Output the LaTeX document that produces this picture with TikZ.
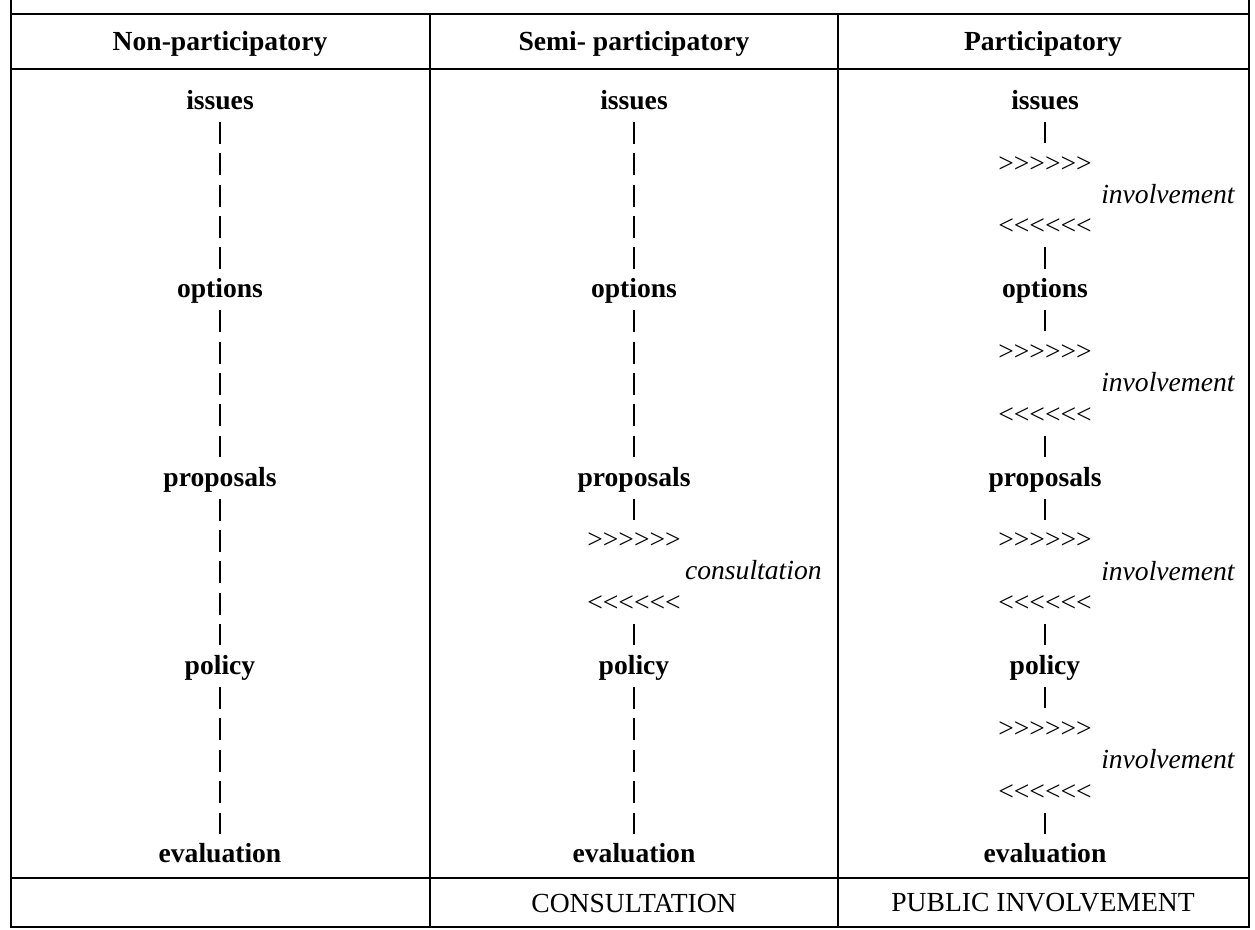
\documentclass[tikz,border=0pt]{standalone}
\usepackage{fontspec}
\setmainfont{Liberation Serif}
\usetikzlibrary{positioning}

\newcommand{\cellfont}{\fontsize{13.8}{16}\selectfont}
\newcommand{\outmarks}{>\kern0pt>\kern0pt>\kern0pt>\kern0pt>\kern0pt>}
\newcommand{\inmarks}{<\kern0pt<\kern0pt<\kern0pt<\kern0pt<\kern0pt<}

\begin{document}
\begin{tikzpicture}[x=0.5pt,y=-0.5pt,
		rule/.style={line width=1.2pt},
		stage/.style={font=\cellfont\bfseries,inner sep=0pt,minimum height=20.4pt,text height=0.84em,text depth=0pt},
		marks/.style={font=\cellfont,inner sep=0pt,minimum height=20.4pt,text height=0.84em,text depth=0pt},
		remark/.style={font=\cellfont\itshape,inner sep=0pt,anchor=east},
		bar/.style={line width=1pt,dash pattern=on 11pt off 4.7pt}]
		\useasboundingbox (0,0) rectangle (1255,930);
		% table frame
		\draw [rule] (11,0) -- (11,927) -- (1249,927) -- (1249,0);
		\draw [rule] (11,14) -- (1249,14);
		\draw [rule] (11,69) -- (1249,69);
		\draw [rule] (11,878) -- (1249,878);
		\draw [rule] (430,14) -- (430,927);
		\draw [rule] (838,14) -- (838,927);
		% headings
		\node [font=\cellfont\bfseries] (headA) at (220,44) {Non-participatory};
		\node [font=\cellfont\bfseries] (headB) at (634,44) {Semi- participatory};
		\node [font=\cellfont\bfseries] (headC) at (1043,44) {Participatory};
		% stages in each column
		\foreach \c/\x in {A/220,B/634,C/1045} {
			\node [stage] (iss\c) at (\x,101) {issues};
			\node [stage] (opt\c) at (\x,289.4) {options};
			\node [stage] (pro\c) at (\x,477.8) {proposals};
			\node [stage] (pol\c) at (\x,666.2) {policy};
			\node [stage] (eva\c) at (\x,854.6) {evaluation};
		}
		% non-participatory
		\draw [bar] (issA.south) -- (optA.north);
		\draw [bar] (optA.south) -- (proA.north);
		\draw [bar] (proA.south) -- (polA.north);
		\draw [bar] (polA.south) -- (evaA.north);
		% semi-participatory
		\node [marks] (outB) at (634,540.6) {\outmarks};
		\node [remark] (consB) at (822,570) {consultation};
		\node [marks] (inB) at (634,603.4) {\inmarks};
		\draw [bar] (issB.south) -- (optB.north);
		\draw [bar] (optB.south) -- (proB.north);
		\draw [bar] (proB.south) -- (outB.north);
		\draw [bar] (inB.south) -- (polB.north);
		\draw [bar] (polB.south) -- (evaB.north);
		% participatory
		\foreach \s/\t/\y in {iss/opt/101,opt/pro/289.4,pro/pol/477.8,pol/eva/666.2} {
			\node [marks] (out\s) at (1045,\y+62.8) {\outmarks};
			\node [remark] (inv\s) at (1235,\y+93) {involvement};
			\node [marks] (in\s) at (1045,\y+125.6) {\inmarks};
			\draw [bar] (\s C.south) -- (out\s.north);
			\draw [bar] (in\s.south) -- (\t C.north);
		}
		% bottom row
		\node [font=\cellfont] (footB) at (634,903) {CONSULTATION};
		\node [font=\cellfont] (footC) at (1043,903) {PUBLIC INVOLVEMENT};
	\end{tikzpicture}
\end{document}
